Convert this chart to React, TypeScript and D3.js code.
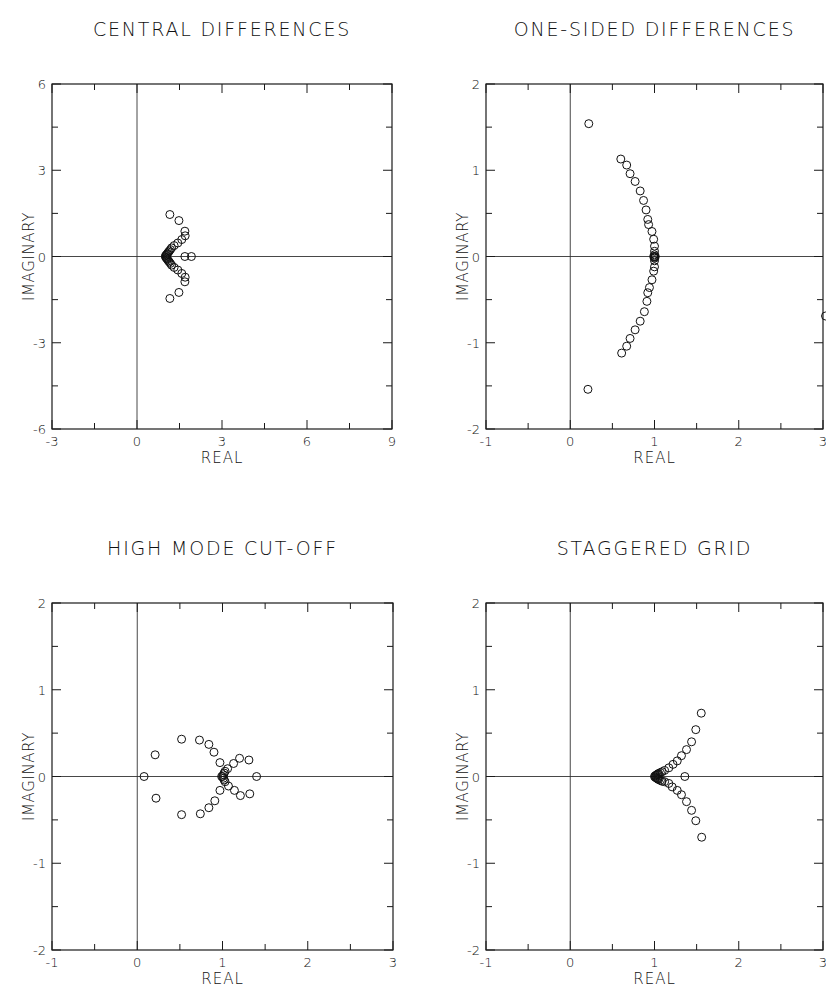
import React from "react";
import * as d3 from "d3";

// ---------- data ----------
const cdReal = [1.16, 1.48, 1.69, 1.70, 1.58, 1.44, 1.31, 1.22, 1.18, 1.14, 1.11, 1.08, 1.06, 1.04, 1.02, 1.0,
  1.02, 1.04, 1.06, 1.08, 1.11, 1.14, 1.18, 1.22, 1.31, 1.44, 1.58, 1.70, 1.69, 1.48, 1.16, 1.69, 1.92];
const cdImag = [1.46, 1.25, 0.88, 0.72, 0.59, 0.47, 0.38, 0.30, 0.24, 0.19, 0.15, 0.11, 0.08, 0.055, 0.03, 0.0,
  -0.03, -0.055, -0.08, -0.11, -0.15, -0.19, -0.24, -0.30, -0.38, -0.47, -0.59, -0.72, -0.88, -1.25, -1.46, 0.0, 0.0];

const osReal = [0.22, 0.60, 0.67, 0.71, 0.77, 0.83, 0.87, 0.90, 0.92, 0.93, 0.97, 0.99, 1.0, 1.0, 1.0,
  0.99, 1.0, 1.01, 1.0,
  1.0, 1.0, 1.0, 0.99, 0.97, 0.94, 0.92, 0.91, 0.88, 0.83, 0.77, 0.71, 0.67, 0.61, 0.21, 3.03];
const osImag = [1.54, 1.13, 1.06, 0.96, 0.87, 0.76, 0.65, 0.54, 0.43, 0.37, 0.29, 0.20, 0.12, 0.06, 0.02,
  0.0, 0.0, 0.0, -0.01,
  -0.02, -0.05, -0.12, -0.17, -0.27, -0.36, -0.42, -0.52, -0.64, -0.75, -0.85, -0.95, -1.04, -1.12, -1.54, -0.69];

const hmReal = [0.08, 0.21, 0.22, 0.52, 0.52, 0.73, 0.74, 0.84, 0.84, 0.90, 0.91, 0.97, 0.97,
  1.0, 1.01, 1.01, 1.02, 1.02, 1.03, 1.03, 0.99,
  1.06, 1.13, 1.20, 1.31, 1.07, 1.14, 1.21, 1.32, 1.40];
const hmImag = [0.0, 0.25, -0.25, 0.43, -0.44, 0.42, -0.43, 0.37, -0.36, 0.28, -0.28, 0.16, -0.16,
  0.0, 0.02, -0.02, 0.04, -0.04, 0.06, -0.06, 0.0,
  0.09, 0.15, 0.21, 0.19, -0.11, -0.16, -0.22, -0.20, 0.0];

const sgReal = [1.555, 1.49, 1.44, 1.38, 1.32, 1.27, 1.22, 1.17, 1.12, 1.09, 1.07, 1.05, 1.04, 1.03, 1.02, 1.01,
  1.0, 1.36,
  1.01, 1.02, 1.03, 1.04, 1.05, 1.07, 1.09, 1.12, 1.17, 1.21, 1.27, 1.32, 1.38, 1.44, 1.49, 1.56];
const sgImag = [0.73, 0.54, 0.40, 0.31, 0.24, 0.18, 0.14, 0.10, 0.07, 0.055, 0.045, 0.035, 0.03, 0.02, 0.015, 0.01,
  0.0, 0.0,
  -0.01, -0.015, -0.02, -0.03, -0.035, -0.045, -0.055, -0.06, -0.08, -0.12, -0.16, -0.21, -0.29, -0.39, -0.51, -0.70];

const titles = ["CENTRAL DIFFERENCES", "ONE-SIDED DIFFERENCES", "HIGH MODE CUT-OFF", "STAGGERED GRID"];

const cdXTicks = [-3, 0, 3, 6, 9];
const cdXMinor = [-1.5, 1.5, 4.5, 7.5];
const cdYTicks = [-6, -3, 0, 3, 6];
const cdYMinor = [-4.5, -1.5, 1.5, 4.5];
const unitXTicks = [-1, 0, 1, 2, 3];
const unitXMinor = [-0.5, 0.5, 1.5, 2.5];
const unitYTicks = [-2, -1, 0, 1, 2];
const unitYMinor = [-1.5, -0.5, 0.5, 1.5];

const xLabel = "REAL";
const yLabel = "IMAGINARY";

type Panel = {
  title: string;
  re: number[];
  im: number[];
  xDom: [number, number];
  yDom: [number, number];
  xT: number[];
  xM: number[];
  yT: number[];
  yM: number[];
  box: { x0: number; x1: number; y0: number; y1: number };
};

const panels: Panel[] = [
  { title: titles[0], re: cdReal, im: cdImag, xDom: [-3, 9], yDom: [-6, 6], xT: cdXTicks, xM: cdXMinor, yT: cdYTicks, yM: cdYMinor, box: { x0: 52, x1: 392, y0: 84, y1: 429 } },
  { title: titles[1], re: osReal, im: osImag, xDom: [-1, 3], yDom: [-2, 2], xT: unitXTicks, xM: unitXMinor, yT: unitYTicks, yM: unitYMinor, box: { x0: 486, x1: 823, y0: 84, y1: 429 } },
  { title: titles[2], re: hmReal, im: hmImag, xDom: [-1, 3], yDom: [-2, 2], xT: unitXTicks, xM: unitXMinor, yT: unitYTicks, yM: unitYMinor, box: { x0: 52, x1: 393, y0: 603, y1: 950 } },
  { title: titles[3], re: sgReal, im: sgImag, xDom: [-1, 3], yDom: [-2, 2], xT: unitXTicks, xM: unitXMinor, yT: unitYTicks, yM: unitYMinor, box: { x0: 486, x1: 823, y0: 603, y1: 950 } },
];

const FONT = "'DejaVu Sans', sans-serif";
const INK = "#1a1a1a";

function PanelView({ p }: { p: Panel }) {
  const { x0, x1, y0, y1 } = p.box;
  const x = d3.scaleLinear().domain(p.xDom).range([x0, x1]);
  const y = d3.scaleLinear().domain(p.yDom).range([y1, y0]);
  const MAJ = 9;
  const MIN = 6;
  const cx = (x0 + x1) / 2;
  const cy = y(0);
  const fmt = (v: number) => String(v);
  return (
    <g>
      <text x={cx} y={y0 - 48} textAnchor="middle" fontFamily={FONT} fontSize={19} fontWeight={300} letterSpacing={1.8} fill="#111">
        {p.title}
      </text>
      {/* zero lines */}
      <line x1={x0} x2={x1} y1={y(0)} y2={y(0)} stroke="#333" strokeWidth={0.9} />
      <line x1={x(0)} x2={x(0)} y1={y0} y2={y1} stroke="#333" strokeWidth={0.9} />
      {/* frame */}
      <rect x={x0} y={y0} width={x1 - x0} height={y1 - y0} fill="none" stroke={INK} strokeWidth={1.2} />
      {/* x ticks */}
      {p.xT.map((v) => (
        <g key={"xt" + v}>
          <line x1={x(v)} x2={x(v)} y1={y1} y2={y1 - MAJ} stroke={INK} strokeWidth={1} />
          <line x1={x(v)} x2={x(v)} y1={y0} y2={y0 + MAJ} stroke={INK} strokeWidth={1} />
          <text x={x(v)} y={y1 + 17} textAnchor="middle" fontFamily={FONT} fontSize={13} fontWeight={300} fill="#111">
            {fmt(v)}
          </text>
        </g>
      ))}
      {p.xM.map((v) => (
        <g key={"xm" + v}>
          <line x1={x(v)} x2={x(v)} y1={y1} y2={y1 - MIN} stroke={INK} strokeWidth={1} />
          <line x1={x(v)} x2={x(v)} y1={y0} y2={y0 + MIN} stroke={INK} strokeWidth={1} />
        </g>
      ))}
      {/* y ticks */}
      {p.yT.map((v) => (
        <g key={"yt" + v}>
          <line x1={x0} x2={x0 + MAJ} y1={y(v)} y2={y(v)} stroke={INK} strokeWidth={1} />
          <line x1={x1} x2={x1 - MAJ} y1={y(v)} y2={y(v)} stroke={INK} strokeWidth={1} />
          <text x={x0 - 6} y={y(v) + 5} textAnchor="end" fontFamily={FONT} fontSize={13} fontWeight={300} fill="#111">
            {fmt(v)}
          </text>
        </g>
      ))}
      {p.yM.map((v) => (
        <g key={"ym" + v}>
          <line x1={x0} x2={x0 + MIN} y1={y(v)} y2={y(v)} stroke={INK} strokeWidth={1} />
          <line x1={x1} x2={x1 - MIN} y1={y(v)} y2={y(v)} stroke={INK} strokeWidth={1} />
        </g>
      ))}
      <text x={cx} y={y1 + 34} textAnchor="middle" fontFamily={FONT} fontSize={15} fontWeight={300} letterSpacing={1} fill="#111">
        {xLabel}
      </text>
      <text transform={`translate(${x0 - 18},${cy}) rotate(-90)`} textAnchor="middle" fontFamily={FONT} fontSize={15} fontWeight={300} letterSpacing={0.6} fill="#111">
        {yLabel}
      </text>
      {/* points */}
      {p.re.map((r, i) => (
        <circle key={"pt" + i} cx={x(r)} cy={y(p.im[i])} r={4} fill="none" stroke="#111" strokeWidth={1} />
      ))}
    </g>
  );
}

export default function App() {
  return (
    <svg width={826} height={988} style={{ position: "absolute", left: 0, top: 0, background: "#fff" }}>
      <rect x={0} y={0} width={826} height={988} fill="#fff" />
      {panels.map((p, i) => (
        <PanelView key={i} p={p} />
      ))}
    </svg>
  );
}
